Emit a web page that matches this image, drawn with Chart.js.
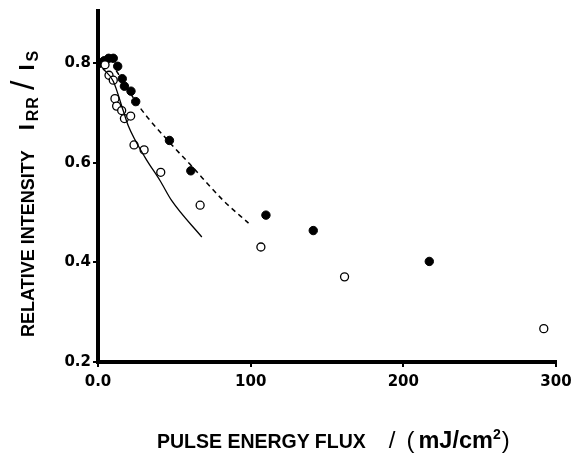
<!DOCTYPE html>
<html>
<head>
<meta charset="utf-8">
<script src="https://cdn.jsdelivr.net/npm/chart.js@4/dist/chart.umd.min.js"></script>
<style>
  html, body { margin: 0; padding: 0; background: #fff; }
  #wrap { position: relative; width: 582px; height: 455px; }
  #chart1 { position: absolute; left: 0; top: 0; }
  .title { position: absolute; font-family: "Liberation Sans", Arial, sans-serif; font-weight: bold; color: #000; white-space: nowrap; line-height: 1; }
  #ytitle { left: 5px; top: 337px; font-size: 18px; transform-origin: 0 0; transform: rotate(-90deg); }
  #xtitle { left: 157px; top: 428px; font-size: 19.5px; }
  .sub { font-size: 16px; position: relative; top: 4px; letter-spacing: 1px; }
  .sup { font-size: 14px; position: relative; top: -9px; }
  .thin { font-weight: normal; }
</style>
</head>
<body>
<div id="wrap">
  <canvas id="chart1" width="582" height="455"></canvas>
  <div id="ytitle" class="title">RELATIVE INTENSITY<span style="display:inline-block;width:20px"></span><span style="font-size:22px">I</span><span class="sub" style="margin-left:3px">RR</span><span class="thin" style="font-size:34px;margin:0 10px 0 6px">/</span><span style="font-size:22px">I</span><span class="sub" style="margin-left:3px">S</span></div>
  <div id="xtitle" class="title">PULSE ENERGY FLUX<span style="display:inline-block;width:23px"></span><span class="thin" style="font-size:24px">/</span><span style="display:inline-block;width:11px"></span><span class="thin" style="font-size:24px">(</span><span style="font-size:23.5px;margin-left:4px">mJ/cm</span><span class="sup">2</span><span class="thin" style="font-size:24px;margin-left:1px">)</span></div>
</div>
<script>
// measured points, filled circles
const filledX = [1, 4, 7, 10, 12.9, 15.9, 17.3, 21.6, 24.7, 46.8, 60.8, 110, 141, 217];
const filledY = [0.80, 0.805, 0.81, 0.81, 0.794, 0.769, 0.754, 0.744, 0.723, 0.645, 0.584, 0.495, 0.464, 0.402];
// measured points, open circles
const openX = [4.6, 7.2, 10, 11.1, 12.2, 15.5, 17.3, 21.4, 23.6, 30.2, 41.1, 66.9, 106.7, 161.5, 292];
const openY = [0.797, 0.776, 0.766, 0.729, 0.714, 0.705, 0.689, 0.694, 0.636, 0.626, 0.581, 0.515, 0.431, 0.371, 0.267];
// fitted curves
const solidX = [3, 10, 16.6, 19.9, 30.8, 40.7, 48.3, 68];
const solidY = [0.79, 0.764, 0.704, 0.674, 0.611, 0.564, 0.524, 0.451];
const dashX = [12, 27.5, 47.2, 60.3, 82.2, 98.6];
const dashY = [0.785, 0.711, 0.64, 0.597, 0.524, 0.479];
// ticks
const xTicks = [0, 100, 200, 300];
const xTickLabels = ["0.0", "100", "200", "300"];
const yTicks = [0.2, 0.4, 0.6, 0.8];
const yTickLabels = ["0.2", "0.4", "0.6", "0.8"];

function pairs(xs, ys) {
  return xs.map((x, i) => ({ x: x, y: ys[i] }));
}

const tickFont = { family: "'DejaVu Sans', Arial, sans-serif", size: 15, weight: 'bold' };

const chart1 = new Chart(document.getElementById('chart1'), {
  type: 'scatter',
  data: {
    datasets: [
      {
        type: 'line', data: pairs(solidX, solidY), borderColor: '#000', borderWidth: 1.3,
        pointRadius: 0, fill: false, tension: 0.4, cubicInterpolationMode: 'monotone'
      },
      {
        type: 'line', data: pairs(dashX, dashY), borderColor: '#000', borderWidth: 1.5, borderDash: [5, 4],
        pointRadius: 0, fill: false, tension: 0.4, cubicInterpolationMode: 'monotone'
      },
      {
        data: pairs(openX, openY), pointRadius: 4, pointBackgroundColor: '#fff',
        pointBorderColor: '#000', pointBorderWidth: 1.3
      },
      {
        data: pairs(filledX, filledY), pointRadius: 4.2, pointBackgroundColor: '#000',
        pointBorderColor: '#000', pointBorderWidth: 1
      }
    ]
  },
  options: {
    responsive: false,
    animation: false,
    layout: { padding: { left: 0, right: 26, top: 10, bottom: 0 } },
    plugins: { legend: { display: false }, tooltip: { enabled: false } },
    scales: {
      x: {
        type: 'linear', min: 0, max: 300,
        afterBuildTicks: s => { s.ticks = xTicks.map(v => ({ value: v })); },
        afterFit: s => { s.height = 93; },
        border: { color: '#000', width: 4 },
        grid: { drawOnChartArea: false, drawTicks: true, tickLength: 5, color: '#000', lineWidth: 2 },
        ticks: { color: '#000', font: tickFont, padding: 6, maxRotation: 0,
          callback: (v) => xTickLabels[xTicks.indexOf(v)] }
      },
      y: {
        type: 'linear', min: 0.2, max: 0.905,
        afterBuildTicks: s => { s.ticks = yTicks.map(v => ({ value: v })); },
        afterFit: s => { s.width = 98; },
        border: { color: '#000', width: 4 },
        grid: { drawOnChartArea: false, drawTicks: true, tickLength: 5, color: '#000', lineWidth: 2 },
        ticks: { color: '#000', font: tickFont, padding: 2,
          callback: (v) => yTickLabels[yTicks.indexOf(v)] }
      }
    }
  }
});
</script>
</body>
</html>
